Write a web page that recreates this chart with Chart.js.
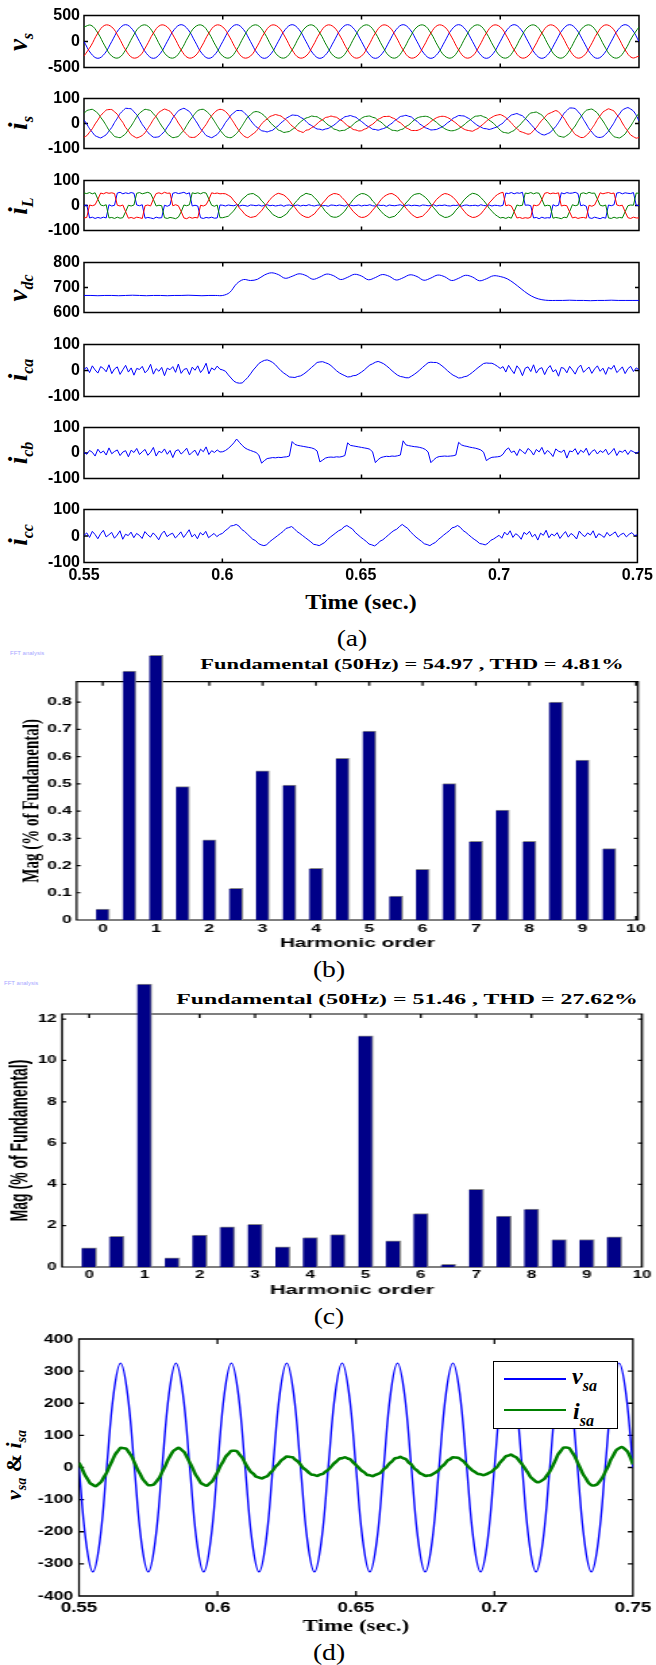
<!DOCTYPE html>
<html>
<head>
<meta charset="utf-8">
<script src="https://cdn.jsdelivr.net/npm/chart.js@4.4.0/dist/chart.umd.min.js"></script>
<style>
  html, body { margin: 0; padding: 0; background: #fff; }
  body { width: 656px; height: 1665px; position: relative; overflow: hidden; }
  .t { position: absolute; white-space: nowrap; line-height: 1; color: #000; }
  .yl { font: bold italic 27px "Liberation Serif", serif; transform: translate(-50%, -50%) rotate(-90deg); }
  .yl sub { font-size: 16px; vertical-align: baseline; position: relative; top: 6px; }
  .cap { font: 23px "Liberation Serif", serif; transform: translate(-50%, -50%) scaleX(1.2); }
  .ttl { font: bold 14px "Liberation Serif", serif; }
  .fft { font: 6px "Liberation Sans", sans-serif; color: #a8a8ff; }
  .lg { font: bold italic 24px "Liberation Serif", serif; }
  .lg sub { font-size: 16px; vertical-align: baseline; position: relative; top: 7px; }
</style>
</head>
<body>

<!-- panel (a) axis labels -->
<div class="t yl" style="left:18px;top:41.5px"><span>v</span><sub>s</sub></div>
<div class="t yl" style="left:18px;top:123.4px"><span>i</span><sub>s</sub></div>
<div class="t yl" style="left:18px;top:205.7px"><span>i</span><sub>L</sub></div>
<div class="t yl" style="left:18px;top:287.7px"><span>v</span><sub>dc</sub></div>
<div class="t yl" style="left:18px;top:370px"><span>i</span><sub>ca</sub></div>
<div class="t yl" style="left:18px;top:452.9px"><span>i</span><sub>cb</sub></div>
<div class="t yl" style="left:18px;top:535px"><span>i</span><sub>cc</sub></div>
<div class="t" style="left:361px;top:602px;font:bold 20px 'Liberation Serif',serif;transform:translate(-50%,-50%) scaleX(1.2)">Time (sec.)</div>
<div class="t cap" style="left:352px;top:639px">(a)</div>

<!-- panel (b) texts -->
<div class="t fft" style="left:10px;top:650px">FFT analysis</div>
<div class="t ttl" style="left:412px;top:665px;transform:translate(-50%,-50%) scaleX(1.6)">Fundamental (50Hz) = 54.97 , THD = 4.81%</div>
<div class="t cap" style="left:329px;top:970px">(b)</div>

<!-- panel (c) texts -->
<div class="t fft" style="left:4px;top:980px">FFT analysis</div>
<div class="t ttl" style="left:407px;top:1000px;transform:translate(-50%,-50%) scaleX(1.7)">Fundamental (50Hz) = 51.46 , THD = 27.62%</div>
<div class="t cap" style="left:329px;top:1317px">(c)</div>

<!-- panel (d) texts -->
<div class="t" style="left:14px;top:1465px;font:bold italic 22px 'Liberation Serif',serif;transform:translate(-50%,-50%) rotate(-90deg)">v<sub style="font-size:14px;vertical-align:baseline;position:relative;top:5px">sa</sub> <span style="font-style:normal">&amp;</span> i<sub style="font-size:14px;vertical-align:baseline;position:relative;top:5px">sa</sub></div>
<div class="t cap" style="left:329px;top:1653px">(d)</div>

<script>
// ---------- data ----------
const time1 = [
  0.55,0.551,0.552,0.553,0.554,0.555,0.556,0.557,0.558,0.559,
  0.56,0.561,0.562,0.563,0.564,0.565,0.566,0.567,0.568,0.569,
  0.57,0.571,0.572,0.573,0.574,0.575,0.576,0.577,0.578,0.579,
  0.58,0.581,0.582,0.583,0.584,0.585,0.586,0.587,0.588,0.589,
  0.59,0.591,0.592,0.593,0.594,0.595,0.596,0.597,0.598,0.599,
  0.6,0.601,0.602,0.603,0.604,0.605,0.606,0.607,0.608,0.609,
  0.61,0.611,0.612,0.613,0.614,0.615,0.616,0.617,0.618,0.619,
  0.62,0.621,0.622,0.623,0.624,0.625,0.626,0.627,0.628,0.629,
  0.63,0.631,0.632,0.633,0.634,0.635,0.636,0.637,0.638,0.639,
  0.64,0.641,0.642,0.643,0.644,0.645,0.646,0.647,0.648,0.649,
  0.65,0.651,0.652,0.653,0.654,0.655,0.656,0.657,0.658,0.659,
  0.66,0.661,0.662,0.663,0.664,0.665,0.666,0.667,0.668,0.669,
  0.67,0.671,0.672,0.673,0.674,0.675,0.676,0.677,0.678,0.679,
  0.68,0.681,0.682,0.683,0.684,0.685,0.686,0.687,0.688,0.689,
  0.69,0.691,0.692,0.693,0.694,0.695,0.696,0.697,0.698,0.699,
  0.7,0.701,0.702,0.703,0.704,0.705,0.706,0.707,0.708,0.709,
  0.71,0.711,0.712,0.713,0.714,0.715,0.716,0.717,0.718,0.719,
  0.72,0.721,0.722,0.723,0.724,0.725,0.726,0.727,0.728,0.729,
  0.73,0.731,0.732,0.733,0.734,0.735,0.736,0.737,0.738,0.739,
  0.74,0.741,0.742,0.743,0.744,0.745,0.746,0.747,0.748,0.749,
  0.75
];
const time25 = [
  0.55,0.5525,0.555,0.5575,0.56,0.5625,0.565,0.5675,0.57,0.5725,0.575,0.5775,0.58,0.5825,0.585,0.5875,0.59,0.5925,0.595,0.5975,
  0.6,0.6025,0.605,0.6075,0.61,0.6125,0.615,0.6175,0.62,0.6225,0.625,0.6275,0.63,0.6325,0.635,0.6375,0.64,0.6425,0.645,0.6475,
  0.65,0.6525,0.655,0.6575,0.66,0.6625,0.665,0.6675,0.67,0.6725,0.675,0.6775,0.68,0.6825,0.685,0.6875,0.69,0.6925,0.695,0.6975,
  0.7,0.7025,0.705,0.7075,0.71,0.7125,0.715,0.7175,0.72,0.7225,0.725,0.7275,0.73,0.7325,0.735,0.7375,0.74,0.7425,0.745,0.7475,
  0.75
];

// source voltages (2.5 ms samples)
const vsA = [
  0,-230,-325,-230,0,230,325,230, 0,-230,-325,-230,0,230,325,230, 0,-230,-325,-230,0,230,325,230,
  0,-230,-325,-230,0,230,325,230, 0,-230,-325,-230,0,230,325,230, 0,-230,-325,-230,0,230,325,230,
  0,-230,-325,-230,0,230,325,230, 0,-230,-325,-230,0,230,325,230, 0,-230,-325,-230,0,230,325,230,
  0,-230,-325,-230,0,230,325,230, 0
];
const vsB = [
  281,314,163,-84,-281,-314,-163,84, 281,314,163,-84,-281,-314,-163,84, 281,314,163,-84,-281,-314,-163,84,
  281,314,163,-84,-281,-314,-163,84, 281,314,163,-84,-281,-314,-163,84, 281,314,163,-84,-281,-314,-163,84,
  281,314,163,-84,-281,-314,-163,84, 281,314,163,-84,-281,-314,-163,84, 281,314,163,-84,-281,-314,-163,84,
  281,314,163,-84,-281,-314,-163,84, 281
];
const vsC = [
  -281,-84,163,314,281,84,-163,-314, -281,-84,163,314,281,84,-163,-314, -281,-84,163,314,281,84,-163,-314,
  -281,-84,163,314,281,84,-163,-314, -281,-84,163,314,281,84,-163,-314, -281,-84,163,314,281,84,-163,-314,
  -281,-84,163,314,281,84,-163,-314, -281,-84,163,314,281,84,-163,-314, -281,-84,163,314,281,84,-163,-314,
  -281,-84,163,314,281,84,-163,-314, -281
];

// source currents (1 ms samples)
const isA = [
  15,-2,-21,-35,-49,-54,-58,-52,-45,-30,-16,4,21,40,51,61,60,59,47,35,
  16,-4,-19,-36,-46,-55,-55,-53,-43,-32,-14,2,22,37,51,57,61,55,48,32,
  15,-2,-21,-34,-48,-53,-57,-51,-44,-30,-15,4,18,34,43,52,52,51,40,30,
  13,-1,-13,-20,-29,-31,-34,-30,-27,-17,-9,3,11,22,28,34,33,32,25,19,
  9,-2,-8,-16,-22,-23,-26,-22,-20,-13,-7,2,12,19,27,29,32,28,25,16,
  8,-1,-10,-15,-23,-24,-27,-23,-20,-15,-6,1,12,19,28,30,33,29,26,16,
  9,-2,-9,-17,-21,-26,-25,-24,-19,-14,-7,3,10,21,26,32,31,30,24,18,
  8,-1,-9,-14,-20,-21,-24,-21,-17,-13,-5,2,15,24,34,37,40,35,31,20,
  10,-3,-15,-29,-37,-44,-46,-41,-36,-24,-12,4,22,41,52,62,62,60,48,35,
  16,-2,-21,-34,-48,-55,-56,-53,-43,-31,-14,3,24,39,54,60,64,58,50,33,
  10
];
const isB = [
  40,52,55,57,50,41,25,10,-8,-27,-39,-52,-55,-57,-50,-41,-25,-10,8,27,
  41,50,57,55,52,39,27,8,-10,-25,-41,-50,-57,-55,-52,-39,-27,-8,10,25,
  40,52,56,57,50,40,26,9,-9,-26,-40,-52,-56,-57,-50,-40,-26,-9,9,26,
  35,45,48,46,40,31,19,6,-6,-15,-26,-30,-36,-34,-32,-24,-17,-4,6,15,
  22,25,30,28,27,20,14,4,-6,-12,-22,-25,-30,-28,-27,-20,-14,-4,6,12,
  21,27,29,30,25,22,12,6,-4,-14,-20,-27,-28,-30,-25,-22,-12,-6,4,14,
  22,26,28,29,27,21,13,5,-5,-13,-21,-26,-29,-29,-26,-21,-13,-5,5,13,
  22,29,30,32,27,23,13,6,-4,-15,-27,-35,-37,-39,-33,-28,-16,-7,6,18,
  33,42,44,46,40,34,20,8,-7,-22,-39,-50,-53,-55,-48,-40,-24,-10,9,26,
  41,53,56,58,51,42,25,10,-8,-27,-41,-53,-56,-58,-51,-42,-25,-10,8,27,
  41
];
const isC = [
  -55,-49,-35,-21,-2,14,32,43,54,56,56,47,37,19,4,-16,-30,-45,-52,-58,
  -54,-48,-37,-20,-3,16,30,45,52,58,54,49,35,21,2,-14,-32,-43,-54,-56,
  -55,-47,-36,-19,-4,15,31,44,53,57,55,48,36,20,3,-15,-31,-44,-53,-57,
  -49,-41,-32,-17,-2,10,18,28,32,36,33,30,21,14,1,-10,-18,-28,-32,-36,
  -27,-25,-17,-11,-1,9,15,24,26,30,27,25,17,11,1,-9,-15,-24,-26,-30,
  -29,-23,-19,-9,-3,7,17,22,28,28,29,23,19,9,3,-7,-17,-22,-28,-28,
  -28,-24,-18,-10,-2,8,16,23,27,29,28,24,18,10,2,-8,-16,-23,-27,-29,
  -31,-25,-20,-10,-1,9,18,25,31,34,36,31,24,13,3,-11,-20,-31,-35,-39,
  -43,-40,-28,-17,-1,13,24,37,42,47,52,47,34,21,2,-15,-29,-44,-50,-56,
  -56,-48,-37,-20,-4,16,31,46,53,59,55,50,35,22,2,-16,-31,-46,-53,-59,
  -56
];

// load currents (1 ms samples)
const iLA = [
  0,2,-50,-47,-52,-48,-51,-47,-50,3,-2,1,50,53,47,51,48,52,49,2,
  -1,3,-51,-48,-50,-53,-47,-50,-49,1,-3,2,49,52,48,50,53,47,51,-2,
  1,-2,-49,-52,-48,-50,-47,-51,-50,2,
  1,-2,2,0,-1,3,-2,1,0,-3, 2,1,-1,2,-2,0,3,-1,1,-2,
  0,2,-3,1,2,-1,0,2,-2,1, -1,3,0,-2,1,2,-1,0,-3,2,
  1,-1,2,0,-2,3,1,-1,0,2, -2,1,0,3,-1,-2,2,0,1,-3,
  2,0,-1,1,3,-2,0,2,-1,1, 0,-2,2,1,-1,0,3,-2,1,0,
  2,-1,-2,1,0,2,-3,1,2,-1, 0,1,-2,3,0,-1,2,-2,1,0,
  -2,1,50,48,52,47,51,49,53,1,
  2,-1,-50,-48,-53,-47,-51,-49,-50,3,-2,1,51,47,52,49,50,53,48,-1,
  2,-3,-49,-52,-47,-50,-53,-48,-51,2,-1,3,50,52,47,51,49,48,52,1,
  0
];
const iLB = [
  50,48,52,47,51,25,2,-1,3,-50,-48,-52,-47,-51,-49,-25,1,-2,2,49,
  52,47,50,53,48,24,-2,1,-1,-49,-52,-48,-50,-53,-47,-26,2,-1,3,51,
  48,51,47,52,50,26,1,-3,2,-49,
  -49,-46,-43,-32,-21,-4,8,25,34,44,47,48,41,34,19,8,-11,-22,-36,-42,
  -48,-48,-41,-34,-19,-7,11,22,36,42,49,46,43,32,21,4,-8,-24,-34,-44,
  -47,-47,-42,-33,-22,-5,9,24,35,43,48,47,42,34,18,7,-10,-23,-35,-43,
  -49,-46,-43,-32,-20,-6,10,22,36,44,47,48,41,33,21,5,-9,-22,-36,-42,
  -48,-47,-42,-34,-19,-7,8,23,34,43,49,47,42,32,20,6,-11,-23,-35,-43,
  -50,-48,-52,-47,-51,-25,2,-1,1,50,
  48,52,47,51,49,25,-2,1,-1,-51,-48,-50,-53,-47,-49,-24,3,-1,2,48,
  51,47,53,49,50,26,1,-2,2,-50,-52,-47,-51,-48,-50,-25,-1,2,1,50,
  49
];
const iLC = [
  -50,-48,2,-1,3,25,50,47,52,49,51,48,1,-2,2,-25,-51,-48,-52,-47,
  -49,-52,-1,2,-2,26,48,51,47,53,49,50,-1,3,-1,-24,-50,-53,-47,-51,
  -48,-50,1,-2,3,24,51,48,50,47,
  48,47,41,34,19,7,-10,-22,-36,-43,-48,-46,-43,-32,-21,-5,9,24,35,44,
  49,46,42,33,21,5,-8,-23,-35,-42,-47,-48,-41,-34,-20,-7,10,22,36,43,
  48,47,43,32,20,6,-9,-24,-34,-44,-48,-47,-42,-33,-19,-6,8,23,35,42,
  47,48,42,34,19,7,-11,-22,-35,-43,-49,-46,-43,-32,-21,-5,9,24,34,43,
  48,46,41,33,21,6,-9,-23,-36,-43,-48,-47,-42,-34,-20,-6,10,22,35,44,
  50,53,-1,2,-2,-25,-50,-48,-52,-49,
  -51,-47,2,-1,3,24,49,52,47,50,48,51,-2,1,-1,-26,-50,-47,-52,-49,
  -48,-51,1,-3,2,25,51,47,50,52,48,50,2,-1,1,-25,-49,-52,-47,-50,
  -50
];

// dc link voltage (2.5 ms samples)
const vdc = [
  668,668,667,668,668,667,668,669,668,667,668,668,667,668,668,669,668,667,668,668,
  668,680,715,732,728,733,750,759,752,737,745,755,748,733,742,754,747,732,741,753,
  746,731,740,752,745,730,739,751,744,729,738,750,743,728,737,749,742,727,735,747,
  744,735,717,695,674,659,651,648,648,648,649,648,648,647,648,648,649,648,648,648,648
];

// compensating currents (1 ms samples)
const icA = [
  5,12,-8,18,2,-10,15,8,-5,22,-12,6,14,-15,3,20,-6,10,-18,8,
  4,16,-9,2,24,-14,7,-3,12,-20,9,3,15,-7,25,-11,4,8,-16,13,
  1,18,-8,6,28,-13,10,2,17,5,
  2,-3,-17,-29,-41,-47,-49,-48,-38,-27,
  -13,2,14,27,34,39,41,37,31,22,
  10,-1,-10,-17,-25,-26,-27,-23,-21,-15,
  -7,2,12,21,31,33,34,30,26,19,
  9,-1,-9,-15,-20,-25,-24,-20,-19,-13,
  -6,2,12,21,26,32,35,31,26,18,
  9,-1,-10,-18,-23,-25,-28,-28,-22,-15,
  -7,2,12,21,30,32,31,31,26,18,
  9,-1,-10,-18,-23,-29,-28,-24,-22,-15,
  -7,2,11,19,27,29,28,28,23,16,
  8,
  15,-6,20,3,-12,18,5,-20,9,14,-4,22,-10,6,11,-16,7,19,-5,3,
  -22,12,8,-9,16,2,-14,10,21,-7,4,13,-11,6,18,-3,9,-15,12,5,
  20,-8,2,14,-12,7,16,-4,10,3
];
const icB = [
  2,-5,10,3,-12,15,0,8,-8,20,-3,6,12,-10,4,9,-15,11,2,18,
  -6,5,14,-9,3,22,-12,7,1,16,-5,10,-18,8,13,-4,6,19,-8,3,
  11,-10,15,5,24,-6,9,2,12,4,
  5,10,18,28,40,55,42,30,20,14,
  10,6,2,-8,-40,-30,-22,-20,-18,-19,
  -17,-18,-16,-15,-12,45,34,30,28,26,
  24,22,20,16,8,-35,-28,-20,-17,-16,
  -17,-15,-16,-14,-10,40,30,28,26,24,
  22,20,18,15,4,-38,-26,-18,-15,-13,
  -14,-12,-13,-11,-8,48,32,29,27,25,
  24,22,19,14,4,-38,-27,-18,-14,-13,
  -12,-13,-12,-11,-8,42,32,28,26,23,
  21,19,16,12,3,-30,-22,-17,-16,-15,
  -13,
  -5,12,20,2,8,-10,15,6,-3,18,9,-8,14,4,22,-5,10,1,-14,16,
  7,3,12,-20,8,5,17,-6,11,2,19,-9,6,13,-4,9,2,15,-7,4,
  18,-10,8,3,12,-6,10,5,-2,7
];
const icC = [
  3,12,-5,18,6,-10,9,22,-3,5,14,-8,4,20,-12,7,2,15,-6,10,
  3,-9,17,5,-4,12,1,-14,8,19,-2,6,11,-7,3,16,-5,9,24,-3,
  7,-10,13,4,18,-6,2,10,-2,6,
  10,20,28,38,40,44,38,25,18,8,
  -2,-12,-17,-28,-33,-36,-33,-22,-14,-6,
  2,10,18,29,32,36,28,17,10,2,
  -6,-14,-22,-31,-33,-36,-30,-24,-13,-4,
  4,12,20,25,35,40,33,27,14,5,
  -4,-12,-20,-30,-33,-37,-30,-19,-14,-5,
  4,13,21,26,36,44,36,29,16,6,
  -4,-12,-20,-29,-32,-36,-29,-24,-13,-5,
  4,12,20,31,34,40,33,21,14,5,
  -4,-12,-19,-28,-30,-33,-27,-16,-11,-4,
  3,
  -8,15,4,20,-5,9,2,-12,14,6,18,-3,7,-15,11,3,22,-6,8,1,
  13,-9,5,17,-4,10,2,-11,19,6,-2,12,4,20,-7,9,3,-5,14,1,
  8,16,-4,6,11,-3,7,13,2,5
];

// harmonic spectra
const harmOrder = [0,0.5,1,1.5,2,2.5,3,3.5,4,4.5,5,5.5,6,6.5,7,7.5,8,8.5,9,9.5];
const magB = [0.04,0.914,0.972,0.49,0.294,0.116,0.548,0.495,0.19,0.594,0.694,0.088,0.186,0.501,0.289,0.404,0.289,0.80,0.587,0.262];
const magC = [0.93,1.49,13.7,0.45,1.54,1.94,2.07,0.98,1.43,1.57,11.19,1.27,2.59,0.13,3.76,2.46,2.81,1.33,1.33,1.46];

// tick labels
const timeTicks = [0.55,0.6,0.65,0.7,0.75];
const vsTicks = [-500,0,500];
const iTicks = [-100,0,100];
const vdcTicks = [600,700,800];
const harmTicks = [0,1,2,3,4,5,6,7,8,9,10];
const magBTicks = [0,0.1,0.2,0.3,0.4,0.5,0.6,0.7,0.8];
const magCTicks = [0,2,4,6,8,10,12];
const vdTicks = [-400,-300,-200,-100,0,100,200,300,400];

// ---------- drawing ----------
const SANS = "'Liberation Sans', Arial, sans-serif";
const SERIF = "'Liberation Serif', 'Times New Roman', serif";
Chart.defaults.font.family = SANS;
const BLUE = '#0000ff', GREEN = '#008000', RED = '#ff0000';

const boxPlugin = {
  id: 'box',
  beforeDatasetsDraw(chart, args, opt) {
    const {ctx, chartArea: a} = chart;
    const x = chart.scales.x, y = chart.scales.y;
    const tl = opt.tl, th = opt.tl / opt.s;
    ctx.save();
    ctx.strokeStyle = '#000';
    ctx.lineWidth = opt.lw;
    ctx.beginPath();
    ctx.rect(a.left, a.top, a.right - a.left, a.bottom - a.top);
    x.ticks.forEach(t => {
      const p = x.getPixelForValue(t.value);
      ctx.moveTo(p, a.bottom); ctx.lineTo(p, a.bottom - tl);
      ctx.moveTo(p, a.top); ctx.lineTo(p, a.top + tl);
    });
    y.ticks.forEach(t => {
      const p = y.getPixelForValue(t.value);
      ctx.moveTo(a.left, p); ctx.lineTo(a.left + th, p);
      ctx.moveTo(a.right, p); ctx.lineTo(a.right - th, p);
    });
    ctx.stroke();
    ctx.restore();
  }
};

const pts = (t, v) => t.map((x, i) => ({x: x, y: v[i]}));
const line = (t, v, color, w, tension) => ({
  data: pts(t, v), borderColor: color, borderWidth: w, pointRadius: 0, tension: tension || 0, fill: false
});

// o.box = [left, right, top, bottom] of the plot frame in page pixels
function frame(o) {
  const cv = document.createElement('canvas');
  const w = Math.round(656 / o.s), h = Math.round(o.bottom - o.top);
  const s = 656 / w;
  cv.width = w; cv.height = h;
  cv.style.cssText = 'position:absolute;left:0;top:' + o.top + 'px;width:656px;height:' + h + 'px';
  document.body.appendChild(cv);
  const L = o.box[0] / s, R = o.box[1] / s;
  return new Chart(cv, {
    type: o.type || 'line',
    data: {datasets: o.ds},
    plugins: [boxPlugin],
    options: {
      responsive: false, animation: false, events: [],
      layout: {padding: {left: 0, right: w - R, top: o.box[2] - o.top, bottom: h - (o.box[3] - o.top) - o.xH}},
      plugins: {legend: {display: false}, tooltip: {enabled: false}, box: {lw: o.lw, tl: o.tl, s: s}},
      scales: {
        x: {
          type: 'linear', min: o.xr[0], max: o.xr[1], offset: false,
          afterBuildTicks: sc => { sc.ticks = o.xt.map(v => ({value: v})); },
          afterFit: sc => { sc.height = o.xH; },
          grid: {display: false, drawTicks: false}, border: {display: false},
          ticks: {display: !!o.showX, padding: o.xPad || 0, color: '#000', font: o.xFont, maxRotation: 0, autoSkip: false, callback: v => String(v)},
          title: o.xTitle || {display: false}
        },
        y: {
          type: 'linear', min: o.yr[0], max: o.yr[1],
          afterBuildTicks: sc => { sc.ticks = o.yt.map(v => ({value: v})); },
          afterFit: sc => { sc.width = L; },
          grid: {display: false, drawTicks: false}, border: {display: false},
          ticks: {padding: o.yPad, color: '#000', font: o.yFont, autoSkip: false, callback: v => String(v)},
          title: o.yTitle || {display: false}
        }
      }
    }
  });
}

// panel (a): seven stacked traces
const aFont = {family: SANS, size: 16, weight: 'bold'};
const aSubs = [
  {fr: [14, 69], yr: [-500, 500], yt: vsTicks,
   ds: [line(time25, vsC, RED, 1, 0.4), line(time25, vsB, GREEN, 1, 0.4), line(time25, vsA, BLUE, 1, 0.4)]},
  {fr: [96.7, 150], yr: [-100, 100], yt: iTicks,
   ds: [line(time1, isC, RED, 1, 0.2), line(time1, isB, GREEN, 1, 0.2), line(time1, isA, BLUE, 1, 0.2)]},
  {fr: [179, 232.3], yr: [-100, 100], yt: iTicks,
   ds: [line(time1, iLC, RED, 1), line(time1, iLB, GREEN, 1), line(time1, iLA, BLUE, 1)]},
  {fr: [261, 314.3], yr: [600, 800], yt: vdcTicks, ds: [line(time25, vdc, BLUE, 1, 0.35)]},
  {fr: [342.7, 397.3], yr: [-100, 100], yt: iTicks, ds: [line(time1, icA, BLUE, 1)]},
  {fr: [425.7, 480], yr: [-100, 100], yt: iTicks, ds: [line(time1, icB, BLUE, 1)]},
  {fr: [507.7, 562.3], yr: [-100, 100], yt: iTicks, ds: [line(time1, icC, BLUE, 1)], last: true}
];
aSubs.forEach(sp => {
  const last = !!sp.last;
  frame({
    s: 1, top: sp.fr[0] - 12, bottom: last ? 590 : sp.fr[1] + 12,
    box: [84, 639, sp.fr[0], sp.fr[1]], xH: last ? 590 - sp.fr[1] : 0,
    xr: [0.55, 0.75], xt: timeTicks, yr: sp.yr, yt: sp.yt,
    showX: last, xPad: 3, xFont: aFont, yPad: 4, yFont: aFont,
    lw: 1.5, tl: 4, ds: sp.ds
  });
});

// panel (b): spectrum with THD 4.81 %
frame({
  type: 'bar', s: 1.6, top: 645, bottom: 955, box: [76.6, 638, 681.7, 920], xH: 35,
  xr: [-0.49, 10.04], xt: harmTicks, yr: [0, 0.875], yt: magBTicks,
  showX: true, xPad: 2, xFont: {family: SANS, size: 11, weight: 'bold'},
  yPad: 3, yFont: {family: SANS, size: 11, weight: 'bold'},
  xTitle: {display: true, text: 'Harmonic order', color: '#000', font: {family: SANS, size: 13, weight: 'bold'}, padding: {top: 0, bottom: 3.8}},
  yTitle: {display: true, text: 'Mag (% of Fundamental)', color: '#000', font: {family: SERIF, size: 15, weight: 'bold'}, padding: {top: 11, bottom: 0}},
  lw: 1.2, tl: 4,
  ds: [{data: pts(harmOrder, magB), backgroundColor: '#000088', borderColor: '#8a8a8a',
        borderWidth: {top: 1, right: 1, bottom: 0, left: 0}, borderSkipped: false, barThickness: 8.3, clip: false}]
});

// panel (c): spectrum with THD 27.62 %
frame({
  type: 'bar', s: 1.7, top: 975, bottom: 1300, box: [62, 642, 1014, 1267], xH: 33,
  xr: [-0.49, 10], xt: harmTicks, yr: [0, 12.25], yt: magCTicks,
  showX: true, xPad: 2, xFont: {family: SANS, size: 10, weight: 'bold'},
  yPad: 3.2, yFont: {family: SANS, size: 10, weight: 'bold'},
  xTitle: {display: true, text: 'Harmonic order', color: '#000', font: {family: SANS, size: 13, weight: 'bold'}, padding: {top: 0, bottom: 1.5}},
  yTitle: {display: true, text: 'Mag (% of Fundamental)', color: '#000', font: {family: SANS, size: 14, weight: 'bold'}, padding: {top: 3.3, bottom: 0}},
  lw: 1.2, tl: 4,
  ds: [{data: pts(harmOrder, magC), backgroundColor: '#000088', borderColor: '#8a8a8a',
        borderWidth: {top: 1, right: 1, bottom: 0, left: 0}, borderSkipped: false, barThickness: 8.6, clip: false}]
});

// panel (d): phase-a voltage and current
frame({
  s: 1.35, top: 1325, bottom: 1640, box: [79, 633, 1339, 1596], xH: 44,
  xr: [0.55, 0.75], xt: timeTicks, yr: [-400, 400], yt: vdTicks,
  showX: true, xPad: 3.5, xFont: {family: SANS, size: 14, weight: 'bold'},
  yPad: 4.4, yFont: {family: SANS, size: 13, weight: 'bold'},
  xTitle: {display: true, text: 'Time (sec.)', color: '#000', font: {family: SERIF, size: 17, weight: 'bold'}, padding: {top: 0, bottom: 2.8}},
  lw: 1.3, tl: 5,
  ds: [line(time1, isA, GREEN, 2.6, 0.2), line(time25, vsA, BLUE, 1.4, 0.4)]
});
</script>

<!-- legend of panel (d) -->
<div style="position:absolute;left:493px;top:1361px;width:125px;height:68px;border:1px solid #000;background:#fff;box-sizing:border-box"></div>
<div style="position:absolute;left:504px;top:1378.2px;width:62px;height:1.6px;background:#0000ff"></div>
<div style="position:absolute;left:504px;top:1408.7px;width:62px;height:2.6px;background:#008000"></div>
<div class="t lg" style="left:572px;top:1363px">v<sub>sa</sub></div>
<div class="t lg" style="left:573px;top:1398px">i<sub>sa</sub></div>
</body>
</html>
